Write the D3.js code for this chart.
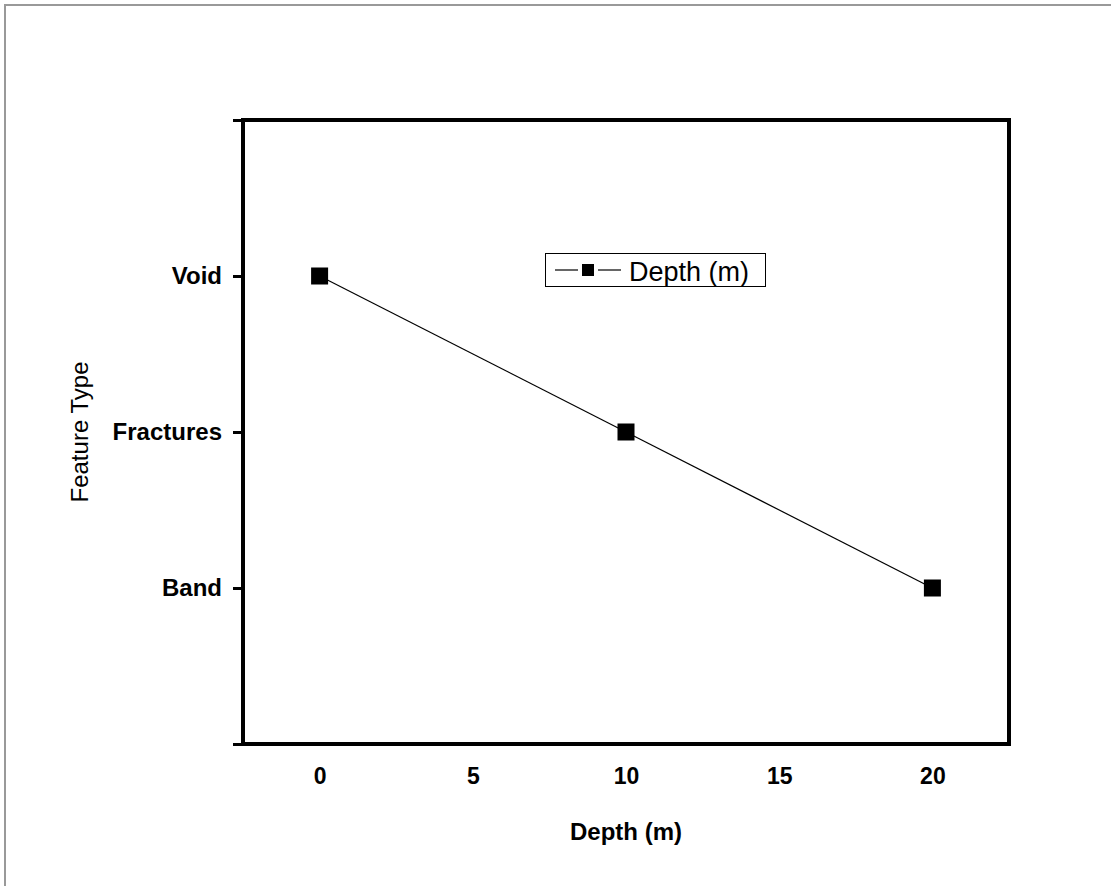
<!DOCTYPE html>
<html>
<head>
<meta charset="utf-8">
<script src="https://cdn.jsdelivr.net/npm/d3@7"></script>
<style>
  html, body { margin: 0; padding: 0; background: #fff; }
  svg { display: block; }
</style>
</head>
<body>
<svg id="chart" width="1111" height="886"></svg>
<script>
// ---- data ----
const depths = [0, 10, 20];
const featureTypes = ["Void", "Fractures", "Band"];
const categoryLevels = ["", "Band", "Fractures", "Void", ""]; // y positions 0..4
const xTicks = [0, 5, 10, 15, 20];
const seriesName = "Depth (m)";
const xTitle = "Depth (m)";
const yTitle = "Feature Type";

(function () {
const svg = d3.select("#chart");
const W = 1111, H = 886;
const FONT = "Liberation Sans, Arial, sans-serif";

// outer gray border (top and left)
svg.append("line").attr("x1", 4).attr("x2", W).attr("y1", 5).attr("y2", 5)
  .attr("stroke", "#999").attr("stroke-width", 2);
svg.append("line").attr("x1", 5).attr("x2", 5).attr("y1", 4).attr("y2", H)
  .attr("stroke", "#999").attr("stroke-width", 2);

const pL = 243, pR = 1009, pT = 120, pB = 744;

const x = d3.scaleLinear().domain([-2.5, 22.5]).range([pL, pR]);
const y = d3.scaleLinear().domain([0, 4]).range([pB, pT]);
const yIndex = name => categoryLevels.indexOf(name);

// x axis labels (no visible ticks)
const xAxis = d3.axisBottom(x).tickValues(xTicks).tickSize(0).tickPadding(24);
const gx = svg.append("g").attr("transform", `translate(0,${pB})`).call(xAxis);
gx.select(".domain").remove();
gx.selectAll("text").attr("font-family", FONT)
  .attr("font-size", 23).attr("font-weight", "bold").attr("fill", "#000");

// y axis with outward ticks
const yAxis = d3.axisLeft(y).tickValues([0, 1, 2, 3, 4])
  .tickFormat(d => categoryLevels[d]).tickSize(10).tickPadding(11);
const gy = svg.append("g").attr("transform", `translate(${pL},0)`).call(yAxis);
gy.select(".domain").remove();
gy.selectAll(".tick line").attr("stroke", "#000").attr("stroke-width", 3);
gy.selectAll("text").attr("font-family", FONT)
  .attr("font-size", 24).attr("font-weight", "bold").attr("fill", "#000");

// frame
svg.append("rect").attr("x", pL).attr("y", pT)
  .attr("width", pR - pL).attr("height", pB - pT)
  .attr("fill", "none").attr("stroke", "#000").attr("stroke-width", 4);

// series line
const pts = depths.map((d, i) => [x(d), y(yIndex(featureTypes[i]))]);
svg.append("path").attr("d", d3.line()(pts))
  .attr("fill", "none").attr("stroke", "#000").attr("stroke-width", 1.2);

// markers
const ms = 17;
svg.selectAll("rect.mk").data(pts).enter().append("rect").attr("class", "mk")
  .attr("x", d => d[0] - ms / 2).attr("y", d => d[1] - ms / 2)
  .attr("width", ms).attr("height", ms).attr("fill", "#000");

// axis titles
svg.append("text").attr("x", (pL + pR) / 2).attr("y", 840)
  .attr("text-anchor", "middle").attr("font-family", FONT)
  .attr("font-size", 24).attr("font-weight", "bold").text(xTitle);
svg.append("text").attr("transform", `translate(88,${(pT + pB) / 2}) rotate(-90)`)
  .attr("text-anchor", "middle").attr("font-family", FONT)
  .attr("font-size", 24).text(yTitle);

// legend
const lg = svg.append("g");
lg.append("rect").attr("x", 545.5).attr("y", 253.5).attr("width", 220).attr("height", 33)
  .attr("fill", "#fff").attr("stroke", "#000").attr("stroke-width", 1);
lg.append("line").attr("x1", 555).attr("x2", 578).attr("y1", 270).attr("y2", 270)
  .attr("stroke", "#000").attr("stroke-width", 1.2);
lg.append("line").attr("x1", 598).attr("x2", 621).attr("y1", 270).attr("y2", 270)
  .attr("stroke", "#000").attr("stroke-width", 1.2);
lg.append("rect").attr("x", 582).attr("y", 264).attr("width", 12).attr("height", 12).attr("fill", "#000");
lg.append("text").attr("x", 629).attr("y", 281)
  .attr("font-family", FONT).attr("font-size", 27)
  .text(seriesName);
})();
</script>
</body>
</html>
